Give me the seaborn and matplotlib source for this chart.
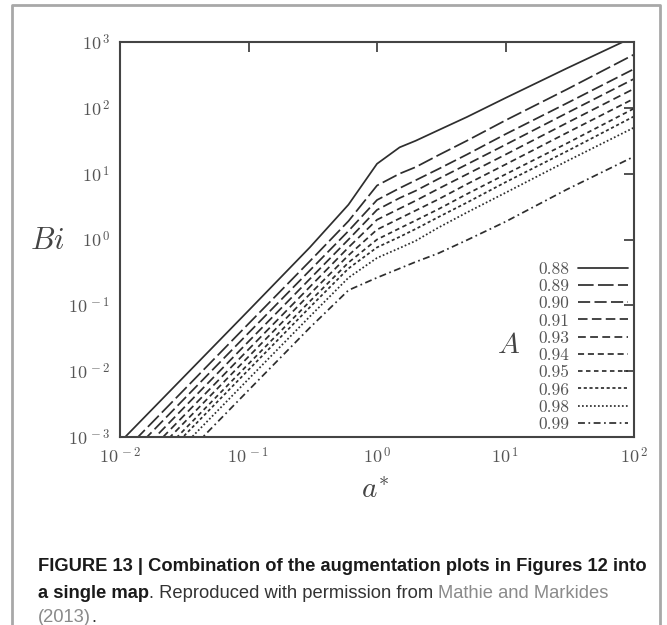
import numpy as np
import pandas as pd
import matplotlib
matplotlib.use("Agg")
import matplotlib.pyplot as plt
import seaborn as sns

# ---- data ----
A_labels = ["0.88", "0.89", "0.90", "0.91", "0.93", "0.94", "0.95", "0.96", "0.98", "0.99"]
a_star = [0.01, 0.1, 0.3, 0.6, 1.0, 1.5, 2.0, 3.0, 5.0, 10.0, 30.0, 100.0]
# log10(Bi) read at each a* value, one list per A
logBi_088 = [-3.08, -1.08, -0.12, 0.53, 1.15, 1.40, 1.50, 1.66, 1.86, 2.15, 2.60, 3.08]
logBi_089 = [-3.28, -1.28, -0.33, 0.28, 0.82, 1.00, 1.10, 1.28, 1.50, 1.81, 2.28, 2.81]
logBi_090 = [-3.42, -1.42, -0.47, 0.13, 0.60, 0.78, 0.90, 1.07, 1.29, 1.60, 2.07, 2.59]
logBi_091 = [-3.55, -1.55, -0.60, 0.00, 0.45, 0.63, 0.74, 0.92, 1.14, 1.44, 1.92, 2.44]
logBi_093 = [-3.67, -1.67, -0.72, -0.12, 0.30, 0.47, 0.59, 0.77, 0.99, 1.29, 1.77, 2.29]
logBi_094 = [-3.78, -1.78, -0.83, -0.24, 0.15, 0.32, 0.44, 0.61, 0.84, 1.14, 1.62, 2.14]
logBi_095 = [-3.89, -1.89, -0.94, -0.35, 0.00, 0.17, 0.29, 0.46, 0.69, 0.99, 1.46, 1.99]
logBi_096 = [-3.98, -1.98, -1.03, -0.44, -0.12, 0.04, 0.16, 0.34, 0.56, 0.87, 1.34, 1.87]
logBi_098 = [-4.12, -2.12, -1.17, -0.58, -0.28, -0.13, -0.02, 0.18, 0.41, 0.71, 1.19, 1.70]
logBi_099 = [-4.29, -2.29, -1.34, -0.77, -0.58, -0.44, -0.34, -0.21, -0.01, 0.27, 0.76, 1.26]
series = [logBi_088, logBi_089, logBi_090, logBi_091, logBi_093,
          logBi_094, logBi_095, logBi_096, logBi_098, logBi_099]

x_ticks = [1e-2, 1e-1, 1e0, 1e1, 1e2]
x_tick_labels = [r"$10^{\,-2}$", r"$10^{\,-1}$", r"$10^{\,0}$", r"$10^{\,1}$", r"$10^{\,2}$"]
y_ticks = [1e-3, 1e-2, 1e-1, 1e0, 1e1, 1e2, 1e3]
y_tick_labels = [r"$10^{\,-3}$", r"$10^{\,-2}$", r"$10^{\,-1}$", r"$10^{\,0}$",
                 r"$10^{\,1}$", r"$10^{\,2}$", r"$10^{\,3}$"]

rows = []
for lab, vals in zip(A_labels, series):
    for x, ly in zip(a_star, vals):
        rows.append({"a": x, "Bi": 10.0 ** ly, "A": lab})
df = pd.DataFrame(rows)

# ---- styling ----
sns.set_theme(style="white")
plt.rcParams["mathtext.fontset"] = "cm"
plt.rcParams["font.family"] = ["DejaVu Serif"]
plt.rcParams["axes.unicode_minus"] = False

W, H = 667, 625
fig = plt.figure(figsize=(W / 100, H / 100), dpi=100)
ax = fig.add_axes([120 / W, 1 - 437 / H, (634 - 120) / W, (437 - 42) / H])
ax.set_xscale("log")
ax.set_yscale("log")

line_col = "#2e2e2e"
dash_map = {
    "0.88": "",
    "0.89": (9, 2.5),
    "0.90": (7, 2.5),
    "0.91": (5.5, 2.5),
    "0.93": (4.5, 2.5),
    "0.94": (3.5, 2.2),
    "0.95": (2.6, 2.0),
    "0.96": (1.8, 1.5),
    "0.98": (1.0, 1.3),
    "0.99": (4, 2, 1, 2),
}
palette = {k: line_col for k in A_labels}
sns.lineplot(data=df, x="a", y="Bi", hue="A", style="A", palette=palette,
             dashes=dash_map, hue_order=A_labels, style_order=A_labels,
             linewidth=1.25, sort=True, estimator=None, ax=ax, legend=True)

ax.set_xlim(1e-2, 1e2)
ax.set_ylim(1e-3, 1e3)
ax.set_xticks(x_ticks)
ax.set_xticklabels(x_tick_labels)
ax.set_yticks(y_ticks)
ax.set_yticklabels(y_tick_labels)
ax.minorticks_off()
ax.tick_params(axis="both", which="major", direction="in", length=7, width=1.3,
               color="#444444", labelsize=13, labelcolor="#555555",
               top=True, right=True, pad=7)
for s in ax.spines.values():
    s.set_color("#444444")
    s.set_linewidth(1.5)
ax.set_xlabel("")
ax.set_ylabel("")
ax.grid(False)

# axis titles
fig.text(47 / W, 1 - 241 / H, r"$Bi$", fontsize=22, color="#444444",
         ha="center", va="center")
fig.text(375 / W, 1 - 490 / H, r"$a^{*}$", fontsize=21, color="#444444",
         ha="center", va="center")
fig.text(509 / W, 1 - 345 / H, r"$A$", fontsize=21, color="#444444",
         ha="center", va="center")

# legend
handles, labels = ax.get_legend_handles_labels()
leg = ax.legend(handles, labels, loc="lower right",
                bbox_to_anchor=(628 / W, 1 - 432 / H),
                bbox_transform=fig.transFigure,
                frameon=False, markerfirst=False,
                prop={"family": "cmr10", "size": 12.5},
                handlelength=2.9, handletextpad=0.5, labelspacing=0.11,
                borderaxespad=0.0, borderpad=0.0)
for t in leg.get_texts():
    t.set_color("#555555")

# outer frame
frame_col = "#a8a8a8"
fig.add_artist(plt.Line2D([12 / W, 12 / W, 660 / W, 660 / W],
                          [0, 1 - 5 / H, 1 - 5 / H, 0],
                          transform=fig.transFigure, color=frame_col, lw=2))

# caption
cap_fam = ["Liberation Sans Narrow", "Liberation Sans", "DejaVu Sans"]
fig.canvas.draw()
renderer = fig.canvas.get_renderer()

def put(x_px, y_px, s, **kw):
    t = fig.text(x_px / W, 1 - y_px / H, s, ha="left", va="baseline",
                 family=cap_fam, fontsize=13.2, **kw)
    bb = t.get_window_extent(renderer=renderer)
    return bb.x1

put(38, 571, "FIGURE 13 | Combination of the augmentation plots in Figures 12 into",
    weight="bold", color="#1a1a1a")
x = put(38, 598, "a single map", weight="bold", color="#1a1a1a")
x = put(x, 598, ". Reproduced with permission from ", color="#333333")
x = put(x, 598, "Mathie and Markides", color="#8a8a8a")
x = put(38, 622, "(2013)", color="#8a8a8a")
put(x, 622, ".", color="#333333")

fig.savefig("out.png", dpi=100)
